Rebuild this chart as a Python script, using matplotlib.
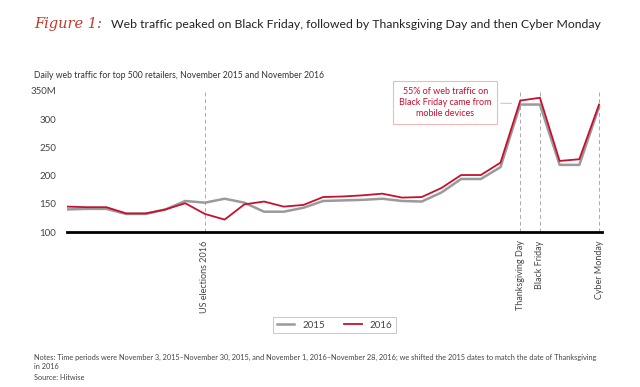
import matplotlib
matplotlib.use("Agg")
import matplotlib.pyplot as plt

plt.rcParams["font.family"] = ["Lato", "DejaVu Sans"]

# Daily web traffic (millions), Nov 1 - Nov 28 2016 (2015 shifted to match)
traffic_2015 = [140, 141, 141, 132, 132, 140, 155, 152, 159, 152, 136, 136, 143, 155,
                156, 157, 159, 155, 154, 170, 194, 194, 215, 326, 326, 219, 219, 322]
traffic_2016 = [145, 144, 144, 133, 133, 140, 151, 132, 122, 149, 154, 145, 148, 162,
                163, 165, 168, 161, 162, 178, 201, 201, 223, 333, 338, 226, 229, 326]

event_days = [7, 23, 24, 27]
event_labels = ["US elections 2016", "Thanksgiving Day", "Black Friday", "Cyber Monday"]

y_ticks = [100, 150, 200, 250, 300, 350]
y_tick_labels = ["100", "150", "200", "250", "300", "350M"]

red = "#c8102e"
grey = "#9a9a9a"

fig = plt.figure(figsize=(6.4, 3.87), dpi=100)
ax = fig.add_axes([67 / 640, 1 - 232 / 387, (602 - 67) / 640, (232 - 91) / 387])

days = list(range(len(traffic_2016)))
ax.plot(days, traffic_2015, color=grey, lw=1.8, label="2015", zorder=3)
ax.plot(days, traffic_2016, color=red, lw=1.3, label="2016", zorder=4)

for d in event_days:
    ax.axvline(d, color="#aaaaaa", lw=0.7, ls=(0, (4, 3)), zorder=1)

ax.set_xlim(0, 27.15)
ax.set_ylim(100, 350)
ax.set_yticks(y_ticks)
ax.set_yticklabels(y_tick_labels, fontsize=7, color="#444444")
ax.set_xticks(event_days)
ax.set_xticklabels(event_labels, rotation=90, fontsize=6.5, color="#444444", va="top")
ax.tick_params(length=0, pad=8)
ax.tick_params(axis="x", pad=6)

for s in ["top", "right", "left"]:
    ax.spines[s].set_visible(False)
ax.spines["bottom"].set_linewidth(2)
ax.spines["bottom"].set_color("black")

# callout
ax.annotate("55% of web traffic on\nBlack Friday came from\nmobile devices",
            xy=(22.7, 328), xytext=(19.2, 329), textcoords="data",
            ha="center", va="center", fontsize=6.5, color=red, linespacing=1.3,
            bbox=dict(boxstyle="square,pad=0.65", fc="white", ec="#f2b8b8", lw=0.8),
            arrowprops=dict(arrowstyle="-", color="#f2b8b8", lw=0.8))

leg = ax.legend(loc="center", bbox_to_anchor=(0.5, -0.66), ncol=2, fontsize=7,
                frameon=True, fancybox=False, handlelength=1.8, columnspacing=2,
                borderpad=0.4)
leg.get_frame().set_edgecolor("#bbbbbb")
leg.get_frame().set_linewidth(0.7)
for t in leg.get_texts():
    t.set_color("#444444")

fig.text(34 / 640, 1 - 24 / 387, "Figure 1:", fontsize=10.5, color="#c0392b",
         family="DejaVu Serif", style="italic", va="center")
fig.text(111 / 640, 1 - 24 / 387,
         "Web traffic peaked on Black Friday, followed by Thanksgiving Day and then Cyber Monday",
         fontsize=8.8, color="#222222", va="center")
fig.text(34 / 640, 1 - 76 / 387,
         "Daily web traffic for top 500 retailers, November 2015 and November 2016",
         fontsize=6.2, color="#333333", va="center")
fig.text(34 / 640, 1 - 354 / 387,
         "Notes: Time periods were November 3, 2015\u2013November 30, 2015, and November 1, 2016\u2013"
         "November 28, 2016; we shifted the 2015 dates to match the date of Thanksgiving\nin 2016",
         fontsize=5.3, color="#444444", va="top", linespacing=1.4)
fig.text(34 / 640, 1 - 378 / 387, "Source: Hitwise", fontsize=5.3, color="#444444", va="center")

fig.savefig("out.png", dpi=100)
